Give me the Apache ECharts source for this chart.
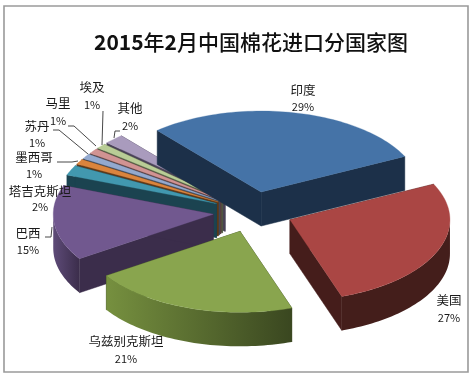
<!DOCTYPE html>
<html><head><meta charset="utf-8">
<style>html,body{margin:0;padding:0;background:#fff}#c{width:471px;height:376px}</style>
<script src="https://cdn.jsdelivr.net/npm/echarts@6/dist/echarts.min.js"></script>
</head><body><div id="c"></div>
<script>
const titleText = '2015年2月中国棉花进口分国家图';
const categories = ['印度','美国','乌兹别克斯坦','巴西','塔吉克斯坦','墨西哥','苏丹','马里','埃及','其他'];
const shares = [29,27,21,15,2,1,1,1,1,2];

// Styling and layout, kept apart from the data
const topColors  = ['#4573A7','#AA4644','#89A54E','#71588F','#4298AF','#DB843D','#93A9CF','#D19392','#B9CD96','#A99BBD'];
const faceColors = ['#1C3049','#451D1B','#38451F','#3B2D4B','#1B4350','#5E3818','#3F4A5C','#5A3F3F','#505940','#494256'];
const wallStops  = [
  ['#1C3049','#1C3049'],['#441E1B','#441E1B'],['#3A4720','#76903F'],['#3B2D4B','#5E4B78'],
  ['#1B4350','#1B4350'],['#5E3818','#5E3818'],['#3F4A5C','#3F4A5C'],['#5A3F3F','#5A3F3F'],['#505940','#505940'],['#494256','#494256']
];
const paintOrder = [9,8,7,6,5,4,0,3,1,2];
const geom = {cx:253, cy:212, rx:160, ry:81, depth:34, explode:40, startDeg:-40.5};
const labelSpots = [[303,90,107],[449,300,318],[126,341,359],[28,233,250],[40,191,207],[34,157,174],[37,126,143],[58,103,121],[92,87,105],[130,108,126]];
const leaders = [
  [[103,111],[102,145]],
  [[120,131],[115,131],[114,138]],
  [[68,126],[74,126],[96,146]],
  [[53,130],[59,130],[88,154]],
  [[57,162],[72,162],[78,161]],
  [[45,237],[51,237],[52,227]]
];

const total = shares.reduce((s,v)=>s+v,0);
const rad = d => d*Math.PI/180;
const spans = []; let acc = geom.startDeg;
shares.forEach(v=>{const e=acc+v/total*360; spans.push([acc,e]); acc=e;});

function apexOf(i){
  const m = rad((spans[i][0]+spans[i][1])/2);
  return [geom.cx+geom.explode*Math.sin(m), geom.cy-geom.explode*Math.cos(m)*0.51];
}
function rim(ap,deg){return [ap[0]+geom.rx*Math.sin(rad(deg)), ap[1]-geom.ry*Math.cos(rad(deg))];}
function down(p){return [p[0],p[1]+geom.depth];}

function renderSlice(params){
  const i = params.dataIndex;
  const [s,e] = spans[i], ap = apexOf(i);
  const arc = [];
  const n = Math.max(4,Math.ceil((e-s)/1.5));
  for(let k=0;k<=n;k++) arc.push(rim(ap,s+(e-s)*k/n));
  const z = paintOrder.indexOf(i)*10;
  const kids = [];
  const face = (p)=>({type:'polygon',z2:z,shape:{points:[ap,p,down(p),down(ap)]},style:{fill:faceColors[i],stroke:faceColors[i],lineWidth:0.5}});
  kids.push(face(arc[0]), face(arc[n]));
  const from = Math.max(s,90), to = Math.min(e,270);
  if(to>from){
    const wa=[]; const m=Math.ceil((to-from)/1.5);
    for(let k=0;k<=m;k++) wa.push(rim(ap,from+(to-from)*k/m));
    const xs = wa.map(p=>p[0]); const x0=Math.min(...xs), x1=Math.max(...xs);
    kids.push({type:'polygon',z2:z+1,shape:{points:wa.concat(wa.slice().reverse().map(down))},
      style:{fill:{type:'linear',x:x0,y:0,x2:x1,y2:0,global:true,colorStops:[
        {offset:0,color:wallStops[i][1]},{offset:1,color:wallStops[i][0]}]}}});
  }
  kids.push({type:'polygon',z2:z+2,shape:{points:[ap].concat(arc)},style:{fill:topColors[i],stroke:topColors[i],lineWidth:0.3}});
  return {type:'group',children:kids};
}
function renderLabel(params){
  const i = params.dataIndex, sp = labelSpots[i];
  const txt=(t,y,size)=>({type:'text',style:{text:t,x:sp[0],y:y,align:'center',verticalAlign:'middle',
    font:size+'px "Noto Sans CJK SC","Noto Sans",sans-serif',fill:'#1a1a1a'}});
  return {type:'group',children:[txt(categories[i],sp[1],12.5),txt(shares[i]+'%',sp[2],11)]};
}
const titleRich = titleText.replace(/(\d+)|([^\d]+)/g,(m,d,c)=>d?`{d|${d}}`:`{c|${c}}`);
const chart = echarts.init(document.getElementById('c'),null,{renderer:'canvas'});
chart.setOption({
  animation:false,
  backgroundColor:'#fff',
  title:{text:titleRich,left:246,top:37,textAlign:'center',textVerticalAlign:'middle',
    textStyle:{rich:{
      d:{fontFamily:'"Noto Sans CJK SC"',fontSize:21,fontWeight:'bold',color:'#111'},
      c:{fontFamily:'"Noto Sans CJK SC"',fontSize:21,fontWeight:500,color:'#111'}
    }}},
  graphic:[
    {type:'rect',shape:{x:4,y:6,width:464,height:366},style:{fill:'none',stroke:'#9a9a9a',lineWidth:1.6},silent:true,z:1}
  ].concat(leaders.map(pts=>({type:'polyline',shape:{points:pts},style:{fill:'none',stroke:'#333',lineWidth:0.9},silent:true,z:20}))),
  series:[
    {type:'custom',coordinateSystem:'none',z:5,silent:true,renderItem:renderSlice,data:shares.map(v=>[v])},
    {type:'custom',coordinateSystem:'none',z:10,silent:true,renderItem:renderLabel,data:shares.map(v=>[v])}
  ]
});
</script></body></html>
